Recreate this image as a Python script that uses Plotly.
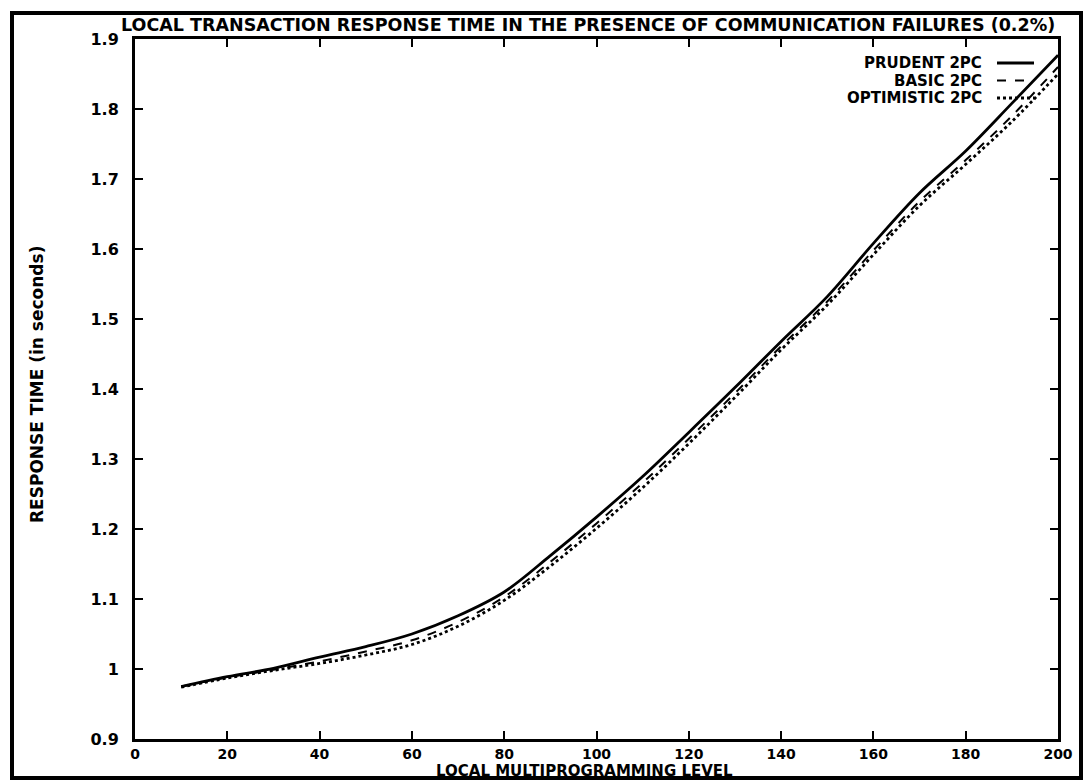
import plotly.graph_objects as go

# ---- data ----
mpl = [10, 20, 30, 40, 50, 60, 70, 80, 90, 100, 110, 120, 130, 140, 150, 160, 170, 180, 190, 200]
prudent = [0.975, 0.989, 1.001, 1.017, 1.032, 1.050, 1.076, 1.110, 1.162, 1.217,
           1.275, 1.338, 1.402, 1.468, 1.532, 1.608, 1.680, 1.740, 1.808, 1.877]
basic = [0.975, 0.988, 0.999, 1.011, 1.025, 1.041, 1.067, 1.103, 1.153, 1.208,
         1.266, 1.329, 1.394, 1.461, 1.525, 1.598, 1.668, 1.727, 1.790, 1.860]
optimistic = [0.974, 0.987, 0.998, 1.008, 1.020, 1.035, 1.061, 1.098, 1.147, 1.201,
              1.259, 1.322, 1.388, 1.456, 1.520, 1.592, 1.662, 1.721, 1.782, 1.850]

series_names = ["PRUDENT 2PC", "BASIC 2PC", "OPTIMISTIC 2PC"]
x_tickvals = [0, 20, 40, 60, 80, 100, 120, 140, 160, 180, 200]
x_ticktext = ["0", "20", "40", "60", "80", "100", "120", "140", "160", "180", "200"]
y_tickvals = [0.9, 1.0, 1.1, 1.2, 1.3, 1.4, 1.5, 1.6, 1.7, 1.8, 1.9]
y_ticktext = ["0.9", "1", "1.1", "1.2", "1.3", "1.4", "1.5", "1.6", "1.7", "1.8", "1.9"]

title_text = "LOCAL TRANSACTION RESPONSE TIME IN THE PRESENCE OF COMMUNICATION FAILURES (0.2%)"
x_title = "LOCAL MULTIPROGRAMMING LEVEL"
y_title = "RESPONSE TIME (in seconds)"

FONT = "DejaVu Sans"
styles = [dict(dash="solid", width=2.8), dict(dash="dash", width=2.0), dict(dash="dot", width=2.8)]

fig = go.Figure()
for name, ys, st in zip(series_names, [prudent, basic, optimistic], styles):
    fig.add_trace(go.Scatter(x=mpl, y=ys, mode="lines", name=name, line_shape="spline",
                             line=dict(color="black", **st), showlegend=False,
                             hoverinfo="skip"))

# plot area in pixels: left 135, right 1058, top 39, bottom 739
W, H = 1087, 783
L, R, T, B = 135, 1058, 39, 739
pw, ph = R - L, B - T

def px(x):
    return (x - L) / pw

def py(y):
    return (B - y) / ph

axis_common = dict(showline=True, linecolor="black", linewidth=3, mirror="ticks",
                   ticks="inside", ticklen=8, tickwidth=2, tickcolor="black",
                   showgrid=False, zeroline=False)

fig.update_layout(
    width=W, height=H,
    margin=dict(l=L, r=W - R, t=T, b=H - B, pad=0),
    paper_bgcolor="white", plot_bgcolor="white",
    xaxis=dict(range=[0, 200], tickvals=x_tickvals, ticktext=x_ticktext,
               ticklabelstandoff=0,
               tickfont=dict(family=FONT, size=14, color="black", weight="bold"),
               **axis_common),
    yaxis=dict(range=[0.9, 1.9], tickvals=y_tickvals, ticktext=y_ticktext,
               ticklabelstandoff=10,
               tickfont=dict(family=FONT, size=16, color="black", weight="bold"),
               **axis_common),
    showlegend=False,
)

fig.add_annotation(text=title_text, xref="paper", yref="paper", x=px(588), y=py(25),
                   xanchor="center", yanchor="middle", showarrow=False,
                   font=dict(family=FONT, size=17.5, color="black", weight="bold"))
fig.add_annotation(text=x_title, xref="paper", yref="paper", x=px(584), y=py(771),
                   xanchor="center", yanchor="middle", showarrow=False,
                   font=dict(family=FONT, size=15, color="black", weight="bold"))
fig.add_annotation(text=y_title, xref="paper", yref="paper", x=px(37), y=py(385),
                   xanchor="center", yanchor="middle", showarrow=False, textangle=-90,
                   font=dict(family=FONT, size=17, color="black", weight="bold"))

# legend: text right-aligned, sample line to the right
for i, (name, st) in enumerate(zip(series_names, styles)):
    yy = py(63 + 17.5 * i)
    fig.add_annotation(text=name, xref="paper", yref="paper", x=px(984), y=yy,
                       xanchor="right", yanchor="middle", showarrow=False,
                       font=dict(family=FONT, size=15, color="black", weight="bold"))
    fig.add_shape(type="line", xref="paper", yref="paper", x0=px(997), x1=px(1034),
                  y0=yy, y1=yy, line=dict(color="black", **st))

# outer frame
fig.add_shape(type="rect", xref="paper", yref="paper", x0=px(12), x1=px(1081),
              y0=py(778), y1=py(13), line=dict(color="black", width=4), layer="above")

fig.write_html("out.html", config={"displayModeBar": False},
               post_script="document.body.style.margin='0';document.body.style.padding='0';"
                           "document.body.style.overflow='hidden';")
